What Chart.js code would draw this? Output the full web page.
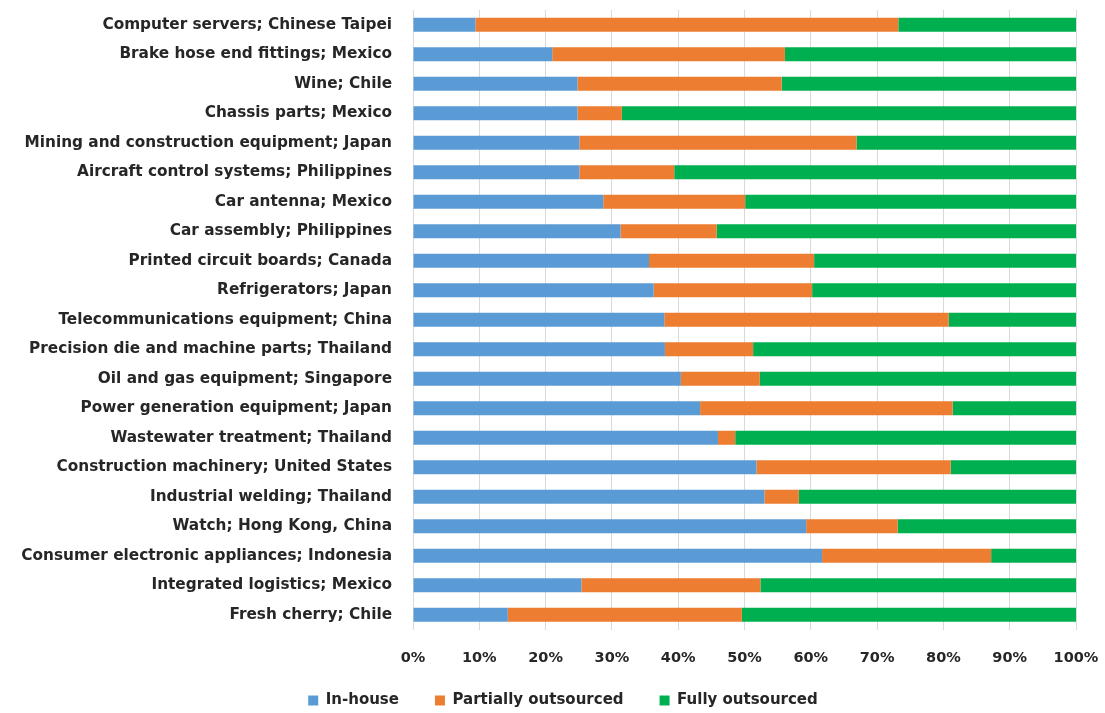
<!DOCTYPE html>
<html>
<head>
<meta charset="utf-8">
<script src="https://cdn.jsdelivr.net/npm/chart.js@4"></script>
<style>
html,body{margin:0;padding:0;background:#fff;}
#wrap{width:1105px;height:713px;position:relative;}
</style>
</head>
<body>
<div id="wrap"><canvas id="c" width="1105" height="713"></canvas></div>
<script>
const categories = [
  "Computer servers; Chinese Taipei",
  "Brake hose end fittings; Mexico",
  "Wine; Chile",
  "Chassis parts; Mexico",
  "Mining and construction equipment; Japan",
  "Aircraft control systems; Philippines",
  "Car antenna; Mexico",
  "Car assembly; Philippines",
  "Printed circuit boards; Canada",
  "Refrigerators; Japan",
  "Telecommunications equipment; China",
  "Precision die and machine parts; Thailand",
  "Oil and gas equipment; Singapore",
  "Power generation equipment; Japan",
  "Wastewater treatment; Thailand",
  "Construction machinery; United States",
  "Industrial welding; Thailand",
  "Watch; Hong Kong, China",
  "Consumer electronic appliances; Indonesia",
  "Integrated logistics; Mexico",
  "Fresh cherry; Chile"
];
const inHouse = [9.4, 21.0, 24.8, 24.8, 25.1, 25.1, 28.7, 31.3, 35.6, 36.3, 37.9, 38.0, 40.4, 43.3, 46.0, 51.8, 53.0, 59.3, 61.7, 25.4, 14.3];
const partiallyOutsourced = [63.8, 35.1, 30.8, 6.7, 41.8, 14.3, 21.4, 14.5, 24.9, 23.9, 42.9, 13.3, 11.9, 38.1, 2.6, 29.3, 5.2, 13.8, 25.5, 27.0, 35.3];
const fullyOutsourced = [26.8, 43.9, 44.4, 68.5, 33.1, 60.6, 49.9, 54.2, 39.5, 39.8, 19.2, 48.7, 47.7, 18.6, 51.4, 18.9, 41.8, 26.9, 12.8, 47.6, 50.4];
const seriesNames = ["In-house", "Partially outsourced", "Fully outsourced"];
const xTicks = [0, 10, 20, 30, 40, 50, 60, 70, 80, 90, 100];

const FONT = "'DejaVu Sans', 'Open Sans', sans-serif";
const bar = {barPercentage: 0.95, categoryPercentage: 0.5, borderWidth: 0};

const legendFix = {
  id: 'legendFix',
  afterInit(chart) {
    const lg = chart.legend;
    if (!lg) return;
    const f = lg.fit.bind(lg);
    lg.fit = function () { f(); this.height = 48; };
    const d = lg.draw.bind(lg);
    lg.draw = function () {
      const t = this.top, l = this.left, r = this.right;
      this.top = t - 30; this.left = l + 25; this.right = r + 25;
      d();
      this.top = t; this.left = l; this.right = r;
    };
  }
};

new Chart(document.getElementById('c'), {
  type: 'bar',
  data: {
    labels: categories,
    datasets: [
      Object.assign({label: seriesNames[0], data: inHouse, backgroundColor: '#5B9BD5'}, bar),
      Object.assign({label: seriesNames[1], data: partiallyOutsourced, backgroundColor: '#ED7D31'}, bar),
      Object.assign({label: seriesNames[2], data: fullyOutsourced, backgroundColor: '#00B050'}, bar)
    ]
  },
  plugins: [legendFix],
  options: {
    indexAxis: 'y',
    responsive: false,
    animation: false,
    layout: {padding: {top: 10, right: 29, bottom: -22, left: 0}},
    scales: {
      x: {
        stacked: true,
        min: 0, max: 100,
        afterBuildTicks: (s) => { s.ticks = xTicks.map(v => ({value: v})); },
        afterFit: (s) => { s.paddingLeft = 0; s.paddingRight = 0; },
        grid: {color: '#d9d9d9', lineWidth: 1, drawTicks: false},
        border: {display: false},
        ticks: {
          padding: 20,
          color: '#262626',
          font: {family: FONT, size: 14.5, weight: 'bold'},
          callback: (v) => v + '%'
        }
      },
      y: {
        stacked: true,
        grid: {display: false, drawTicks: false},
        border: {display: false},
        afterFit: (s) => { s.width = 413; s.paddingTop = 0; s.paddingBottom = 0; },
        ticks: {
          padding: 21,
          color: '#262626',
          font: {family: FONT, size: 15.3, weight: 'bold'}
        }
      }
    },
    plugins: {
      tooltip: {enabled: false},
      legend: {
        position: 'bottom',
        labels: {
          boxWidth: 10, boxHeight: 10,
          padding: 36,
          color: '#262626',
          font: {family: FONT, size: 15, weight: 'bold'}
        }
      }
    }
  }
});
</script>
</body>
</html>
